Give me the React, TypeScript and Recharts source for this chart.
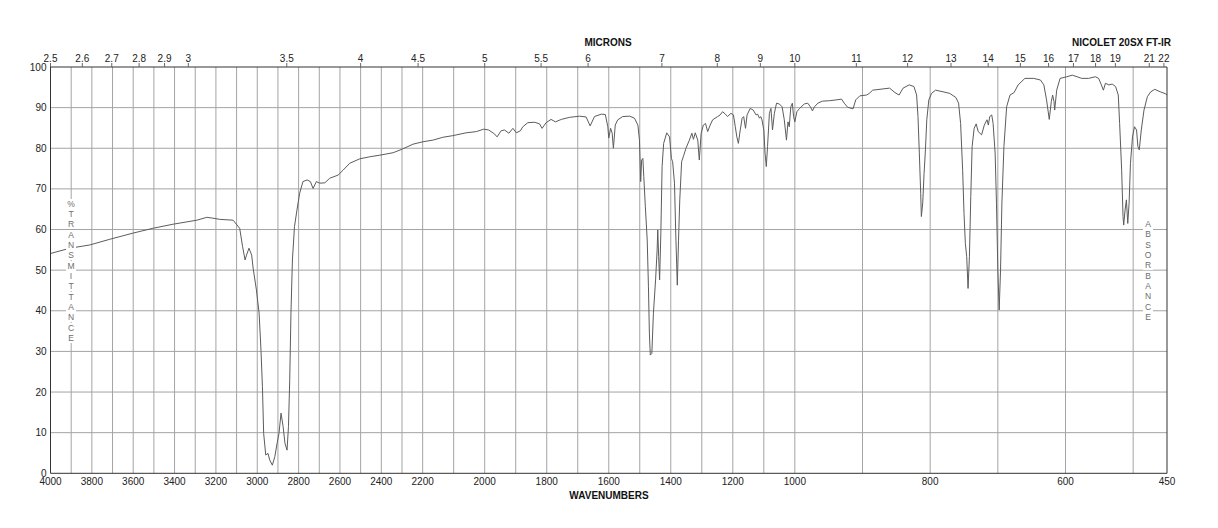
import React from 'react'
import { LineChart, Line, XAxis, YAxis, ReferenceLine } from 'recharts'

// spectrum: wavenumber (cm-1) and %T
const wavenumbers = [
  4000, 3906, 3810, 3713, 3602, 3505, 3408, 3292, 3244, 3215, 3181, 3117, 3085, 3071, 3059, 3052, 3040, 3027, 3020,
  3004, 2991, 2982, 2975, 2969, 2959, 2948, 2940, 2927, 2915, 2904, 2895, 2885, 2875, 2866, 2856, 2849, 2843, 2837,
  2830, 2820, 2808, 2795, 2779, 2759, 2743, 2730, 2714, 2698, 2673, 2650, 2609, 2585, 2553, 2504, 2456, 2407, 2343,
  2298, 2247, 2199, 2167, 2135, 2103, 2060, 2027, 2003, 1987, 1968, 1960, 1947, 1936, 1922, 1909, 1898, 1885, 1877,
  1861, 1839, 1823, 1815, 1802, 1786, 1772, 1753, 1727, 1694, 1673, 1660, 1646, 1624, 1611, 1603, 1600, 1594, 1589,
  1585, 1579, 1571, 1555, 1533, 1517, 1506, 1501, 1499, 1497, 1494, 1490, 1487, 1482, 1476, 1472, 1469, 1466, 1461,
  1456, 1449, 1444, 1442, 1439, 1436, 1432, 1428, 1423, 1413, 1404, 1398, 1394, 1388, 1384, 1379, 1375, 1371, 1365,
  1358, 1351, 1340, 1332, 1327, 1321, 1313, 1308, 1302, 1295, 1288, 1281, 1273, 1265, 1249, 1241, 1233, 1224, 1217,
  1206, 1198, 1192, 1187, 1182, 1176, 1170, 1165, 1159, 1154, 1144, 1134, 1125, 1120, 1114, 1110, 1106, 1100, 1096,
  1092, 1088, 1082, 1077, 1072, 1066, 1059, 1050, 1041, 1034, 1027, 1022, 1018, 1013, 1008, 1004, 1000, 997, 993,
  986, 981, 977, 974, 971, 966, 959, 949, 939, 931, 927, 922, 914, 910, 904, 894, 890, 885, 860, 852, 846, 840, 831,
  824, 820, 818, 816, 814, 813, 811, 809, 807, 805, 802, 798, 792, 781, 771, 762, 758, 755, 752, 750, 748, 746, 744,
  742, 740, 738, 735, 732, 729, 724, 720, 716, 714, 712, 709, 707, 704, 702, 700, 698, 696, 694, 691, 687, 682, 676,
  670, 660, 647, 637, 632, 628, 624, 621, 619, 617, 616, 613, 608, 598, 590, 583, 576, 566, 556, 551, 547, 544, 541,
  536, 531, 526, 522, 520, 517, 515, 514, 512, 510, 508, 506, 504, 501, 498, 495, 493, 491, 488, 484, 479, 474, 468,
  460, 452, 450,
]

const transmittance = [
  54.1, 55.4, 56.2, 57.6, 59.1, 60.3, 61.3, 62.3, 63.0, 62.8, 62.5, 62.3, 60.3, 55.8, 52.5, 53.7, 55.4, 53.7, 50.5,
  45.1, 39.4, 30.3, 21.3, 9.8, 4.5, 4.9, 3.3, 2.0, 4.1, 7.4, 9.8, 14.8, 11.5, 7.4, 5.7, 11.5, 23.0, 39.4,
  52.5, 60.7, 64.8, 68.9, 71.8, 72.2, 71.8, 70.1, 71.8, 71.4, 71.5, 72.6, 73.4, 74.6, 76.3, 77.4, 77.9, 78.3, 78.9,
  79.8, 81.0, 81.6, 82.0, 82.7, 83.1, 83.8, 84.1, 84.7, 84.5, 83.5, 82.8, 84.3, 84.5, 83.7, 84.9, 83.8, 84.3, 85.3,
  86.3, 86.4, 86.0, 84.9, 86.3, 87.1, 86.5, 87.1, 87.6, 87.9, 87.7, 85.5, 87.8, 88.4, 88.3, 85.3, 82.5, 84.9, 83.7,
  80.0, 85.7, 87.0, 87.8, 87.9, 87.4, 85.7, 82.0, 77.1, 71.8, 77.1, 77.5, 73.0, 65.6, 57.4, 45.9, 34.5, 29.1, 29.5,
  39.4, 47.6, 55.0, 59.9, 53.3, 47.6, 59.1, 75.5, 81.2, 83.8, 82.8, 77.5, 76.7, 71.4, 59.1, 46.3, 57.4, 67.3, 76.7,
  78.3, 80.0, 82.0, 83.7, 82.2, 83.8, 82.0, 77.1, 83.7, 85.7, 86.1, 84.1, 85.7, 87.0, 87.8, 88.2, 89.0, 88.4, 87.8,
  88.6, 88.2, 85.3, 82.8, 81.2, 84.5, 87.4, 87.8, 84.9, 88.2, 89.8, 89.4, 88.2, 88.4, 87.4, 87.8, 87.0, 84.5, 78.8,
  75.5, 80.4, 88.6, 89.8, 84.5, 88.6, 91.1, 90.9, 90.2, 87.0, 82.0, 86.5, 85.3, 90.2, 91.1, 87.8, 86.5, 89.0, 89.8,
  90.9, 91.1, 90.2, 89.2, 90.2, 91.1, 91.6, 91.7, 91.9, 92.1, 91.1, 90.1, 89.7, 91.9, 92.9, 93.1, 93.5, 94.3, 94.8, 93.7, 93.1, 94.8, 95.6,
  95.2, 93.1, 87.8, 78.8, 68.9, 63.2, 66.5, 73.8, 79.6, 87.0, 91.9, 93.5, 94.3, 93.9, 93.5, 92.5, 91.1, 86.1, 74.6, 64.0, 56.6, 53.3, 45.5,
  53.3, 68.1, 80.4, 84.9, 86.0, 84.1, 83.3, 85.7, 87.0, 85.7, 87.8, 88.2, 86.1, 78.8, 66.5, 50.0, 40.2, 50.0, 66.5, 80.4, 90.2, 93.1, 93.7,
  95.6, 97.2, 97.2, 96.8, 95.6, 91.9, 87.1, 91.5, 93.1, 91.5, 89.4, 94.3, 97.2, 97.6, 98.0, 97.6, 97.2, 97.2, 97.6, 97.2, 95.6, 94.3, 96.0,
  95.6, 95.8, 95.2, 93.1, 86.1, 74.6, 63.2, 61.1, 64.8, 67.3, 61.5, 66.5, 76.3, 82.8, 85.3, 84.5, 80.4, 79.6, 84.5, 89.4, 92.7, 93.9, 94.5,
  93.9, 93.4, 93.1,
]

const wavenumberTicks = [4000, 3800, 3600, 3400, 3200, 3000, 2800, 2600, 2400, 2200, 2000, 1800, 1600, 1400, 1200, 1000, 800, 600, 450]
const gridWavenumbers = [
  3900, 3800, 3700, 3600, 3500, 3400, 3300, 3200, 3100, 3000, 2900, 2800, 2700, 2600, 2500, 2400, 2300, 2200,
  2100, 2000, 1900, 1800, 1700, 1600, 1500, 1400, 1300, 1200, 1100, 1000, 900, 800, 700, 600, 500,
]
const micronTicks = [2.5, 2.6, 2.7, 2.8, 2.9, 3, 3.5, 4, 4.5, 5, 5.5, 6, 7, 8, 9, 10, 11, 12, 13, 14, 15, 16, 17, 18, 19, 21, 22]
const percentTicks = [0, 10, 20, 30, 40, 50, 60, 70, 80, 90, 100]
const gridPercents = [10, 20, 30, 40, 50, 60, 70, 80, 90]
const absorbanceTicks = [0, 0.05, 0.1, 0.2, 0.3, 0.4, 0.5, 0.6, 0.7, 0.8, 0.9, 1.0, 2.0]
const absorbanceLabels = ['0.0', '.05', '0.1', '0.2', '0.3', '0.4', '0.5', '0.6', '0.7', '0.8', '0.9', '1.0', '2.0']

// the paper uses three equal panels: 4000-2200, 2200-1000, 1000-450
const xpos = (w: number) =>
  w >= 2200 ? (4000 - w) / 1800 : w >= 1000 ? 1 + (2200 - w) / 1200 : 2 + (1000 - w) / 550

const chartData = wavenumbers.map((w, i) => ({ x: xpos(w), t: transmittance[i] }))

const FONT = '"Liberation Sans", Arial, Helvetica, sans-serif'
const GRID = '#a4a4a4'
const AXIS = '#333'

const micronPos = micronTicks.map((m) => xpos(10000 / m))
const absPos = absorbanceTicks.map((a) => 100 * Math.pow(10, -a))

const nearest = (arr: number[], v: number) => {
  let best = 0
  arr.forEach((p, i) => {
    if (Math.abs(p - v) < Math.abs(arr[best] - v)) best = i
  })
  return best
}

const StackedWord = ({ word, left, top, step }: { word: string; left: number; top: number; step: number }) => (
  <>
    {word.split('').map((ch, i) => (
      <div
        key={i}
        style={{
          position: 'absolute',
          left: left - 5,
          top: top + i * step - 5,
          width: 10,
          height: 10,
          lineHeight: '10px',
          textAlign: 'center',
          fontSize: 8.5,
          color: '#6e6e6e',
          background: '#fff',
        }}
      >
        {ch}
      </div>
    ))}
  </>
)

export default function App() {
  return (
    <div
      style={{
        position: 'absolute',
        left: 0,
        top: 0,
        width: 1218,
        height: 528,
        background: '#fff',
        fontFamily: FONT,
        overflow: 'hidden',
      }}
    >
      <LineChart
        width={1218}
        height={528}
        data={chartData}
        margin={{ top: 37, right: 11, bottom: 24.7, left: 10.5 }}
      >
        <XAxis
          xAxisId="bottom"
          dataKey="x"
          type="number"
          domain={[0, 3]}
          ticks={wavenumberTicks.map(xpos)}
          interval={0}
          height={30}
          axisLine={{ stroke: AXIS }}
          tickLine={false}
          tickSize={0}
          tickMargin={5}
          tick={{ fontSize: 10, fill: '#222', fontFamily: FONT }}
          tickFormatter={(v: number) => String(wavenumberTicks[nearest(wavenumberTicks.map(xpos), v)])}
        />
        <XAxis
          xAxisId="top"
          orientation="top"
          dataKey="x"
          type="number"
          domain={[0, 3]}
          ticks={micronPos}
          interval={0}
          height={30}
          axisLine={{ stroke: AXIS }}
          tickLine={{ stroke: '#666' }}
          tickSize={4}
          tickMargin={1}
          tick={{ fontSize: 10, fill: '#222', fontFamily: FONT }}
          tickFormatter={(v: number) => String(micronTicks[nearest(micronPos, v)])}
        />
        <YAxis
          yAxisId="left"
          type="number"
          domain={[0, 100]}
          ticks={percentTicks}
          interval={0}
          width={40}
          axisLine={{ stroke: AXIS }}
          tickLine={false}
          tickSize={0}
          tickMargin={4}
          tick={{ fontSize: 10, fill: '#222', fontFamily: FONT }}
        />
        <YAxis
          yAxisId="right"
          orientation="right"
          type="number"
          domain={[0, 100]}
          ticks={absPos}
          interval={0}
          width={40}
          axisLine={{ stroke: AXIS }}
          tickLine={{ stroke: '#666' }}
          tickSize={2}
          tickMargin={1}
          tick={{ fontSize: 7.5, fill: '#444', fontFamily: FONT }}
          tickFormatter={(v: number) => absorbanceLabels[nearest(absPos, v)]}
        />
        {gridWavenumbers.map((w) => (
          <ReferenceLine key={'v' + w} x={xpos(w)} xAxisId="bottom" yAxisId="left" stroke={GRID} strokeWidth={1} />
        ))}
        {gridPercents.map((p) => (
          <ReferenceLine key={'h' + p} y={p} xAxisId="bottom" yAxisId="left" stroke={GRID} strokeWidth={1} />
        ))}
        <Line
          xAxisId="bottom"
          yAxisId="left"
          type="linear"
          dataKey="t"
          stroke="#5c5c5c"
          strokeWidth={1}
          dot={false}
          activeDot={false}
          isAnimationActive={false}
        />
      </LineChart>

      <div style={{ position: 'absolute', left: 558, width: 100, top: 37, textAlign: 'center', fontSize: 10, fontWeight: 'bold', color: '#111' }}>
        MICRONS
      </div>
      <div style={{ position: 'absolute', right: 1218 - 1171, top: 37, fontSize: 10, fontWeight: 'bold', color: '#111', whiteSpace: 'nowrap' }}>
        NICOLET 20SX FT-IR
      </div>
      <div style={{ position: 'absolute', left: 509, width: 200, top: 490, textAlign: 'center', fontSize: 10, fontWeight: 'bold', color: '#111' }}>
        WAVENUMBERS
      </div>
      <StackedWord word="%TRANSMITTANCE" left={71} top={203.5} step={10.35} />
      <StackedWord word="ABSORBANCE" left={1148} top={224} step={10.35} />
    </div>
  )
}
